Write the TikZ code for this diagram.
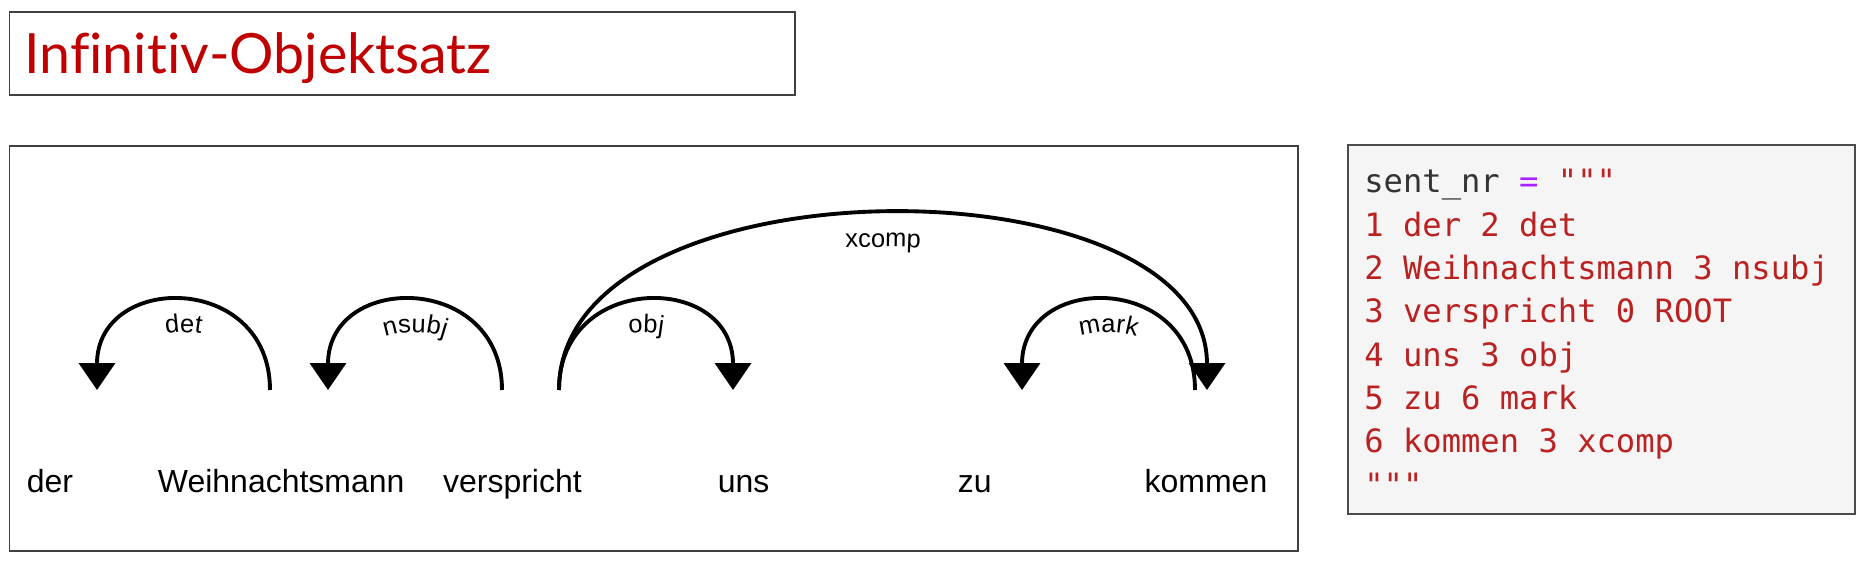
\documentclass[tikz,border=0pt]{standalone}
\usepackage{fontspec}
\setsansfont{Liberation Sans}
\setmonofont{DejaVu Sans Mono}
\newfontfamily\titlefamily{Lato}[Ligatures=NoCommon]
\usetikzlibrary{arrows.meta,decorations.text}

\definecolor{titlered}{HTML}{C00000}
\definecolor{strred}{HTML}{BA2121}
\definecolor{oppurple}{HTML}{AA22FF}
\definecolor{codeblack}{HTML}{333333}
\definecolor{codebg}{HTML}{F5F5F5}

\newcommand\labfont{\sffamily\fontsize{14.5pt}{17pt}\selectfont}

\begin{document}
\begin{tikzpicture}[x=0.02cm, y=-0.02cm, >={Triangle[length=0.54cm,width=0.72cm]},
  frame/.style={draw=black!75, line width=0.8pt},
  word/.style={font=\sffamily\fontsize{18.2pt}{22pt}\selectfont, anchor=base, inner sep=0pt},
  arc/.style={line width=2.2pt},
  tipl/.style={<-}, tipr/.style={->},
  code/.style={font=\ttfamily\fontsize{18.3pt}{24pt}\selectfont, anchor=base west, inner sep=0pt, text=strred}]

\useasboundingbox (0,0) rectangle (1867,574);

% Titel
\draw[frame] (9.5,12) rectangle (795,95);
\node[anchor=base west, inner sep=0pt, text=titlered, font=\titlefamily\fontsize{31.6pt}{36pt}\selectfont] (title) at (24,74) {Infinitiv-Objektsatz};

% Satz und Abhaengigkeiten
\draw[frame] (9.5,146) rectangle (1298,551);
\foreach \w [count=\i] in {der,Weihnachtsmann,verspricht,uns,zu,kommen}
  \node[word] (w\i) at ({50+231.2*(\i-1)},492) {\w};

% links/rechts/Kontrollhoehe/Grundlinie Text/Pfeil/Label
\foreach \n/\l/\r/\c/\t/\dir/\lab in {det/97/270/272/320/tipl/det, nsubj/328/502/272/320/tipl/nsubj,
    obj/559/733/272/320/tipr/obj, xcomp/559/1207/156/206/tipr/xcomp, mark/1022/1195/272/320/tipl/mark}{
  \coordinate (\n-l) at (\l,390);
  \coordinate (\n-r) at (\r,390);
  \draw[arc,\dir] (\n-l) .. controls (\l,\c) and (\r,\c) .. (\n-r);
  \path[decorate, decoration={text along path, text align=center,
    text/.expanded={|\noexpand\labfont|\lab}}]
    (\l+28,370) .. controls (\l+28,\t) and (\r-28,\t) .. (\r-28,370);
}

% CoNLL-Zelle
\filldraw[fill=codebg, draw=black!70, line width=0.8pt] (1348,145) rectangle (1855,514);
\node[code, text=codeblack] (c0) at (1364,193) {sent\textunderscore nr \textcolor{oppurple}{=} \textcolor{strred}{"""}};
\foreach \l [count=\i] in {1 der 2 det, 2 Weihnachtsmann 3 nsubj, 3 verspricht 0 ROOT,
    4 uns 3 obj, 5 zu 6 mark, 6 kommen 3 xcomp, """}
  \node[code] (c\i) at (1364,{193+43.3*\i}) {\l};

\end{tikzpicture}
\end{document}
